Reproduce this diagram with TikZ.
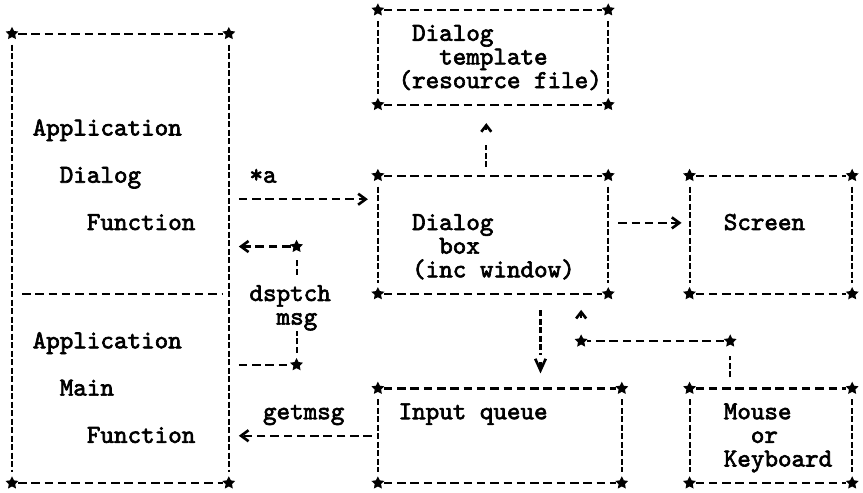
\documentclass[tikz,border=0pt]{standalone}
\usepackage{fontspec}
\newfontfamily\asciifont{lmmono10-regular.otf}[FakeBold=2.5]
\usetikzlibrary{arrows.meta, shapes.geometric, fit}
\lineskiplimit=-20pt

\begin{document}
\begin{tikzpicture}[
  x=0.271cm, y=-0.473cm,
  font=\asciifont\fontsize{14.69pt}{13.45pt}\selectfont,
  hline/.style={draw, line width=1.2pt, dash pattern=on 0.17cm off 0.096cm},
  vline/.style={draw, line width=1.2pt, dash pattern=on 0.12cm off 0.05cm},
  corner/.style={star, star points=5, star point ratio=2, fill, inner sep=0pt, minimum size=0.27cm},
  box/.style={inner sep=0pt, outer sep=0pt, append after command={
    \pgfextra{\xdef\boxname{\tikzlastnode}}
    (\boxname.north west) edge[hline, shorten <=0.12cm, shorten >=0.12cm] (\boxname.north east)
    (\boxname.south west) edge[hline, shorten <=0.12cm, shorten >=0.12cm] (\boxname.south east)
    (\boxname.north west) edge[vline, shorten <=0.22cm, shorten >=0.22cm] (\boxname.south west)
    (\boxname.north east) edge[vline, shorten <=0.22cm, shorten >=0.22cm] (\boxname.south east)
    (\boxname.north west) node[corner] {}
    (\boxname.north east) node[corner] {}
    (\boxname.south west) node[corner] {}
    (\boxname.south east) node[corner] {}}},
  txt/.style={anchor=base west, inner sep=0pt, align=left},
  tiph/.style={-{Straight Barb[length=0.15cm, width=0.22cm, line width=1.5pt]}},
  caret/.style={draw, line width=1.2pt, -{Straight Barb[length=0.13cm, width=0.2cm, line width=1.5pt]}},
  vee/.style={draw, line width=1.2pt, -{Straight Barb[length=0.23cm, width=0.21cm, line width=1.5pt]}}
]
  \useasboundingbox[fill=white] (-0.886,-0.423) rectangle (62.8,20.38);

  % boxes, on a grid of one character by one line
  \node[box, fit={(0,1) (16,20)}] (appfn) {};
  \node[box, fit={(27,0) (44,4)}] (tmpl) {};
  \node[box, fit={(27,7) (44,12)}] (dlgbox) {};
  \node[box, fit={(50,7) (62,12)}] (screen) {};
  \node[box, fit={(27,16) (45,20)}] (inq) {};
  \node[box, fit={(50,16) (62,20)}] (mouse) {};
  \draw[hline, shorten <=0.2cm, shorten >=0.14cm] (appfn.west |- 0,12) -- (appfn.east |- 0,12);

  % texts (placed at the baseline of their last line)
  \node[txt] (dlgfn) at (1.5,9.3) {Application\\[13.45pt]\phantom{xx}Dialog\\[13.45pt]\phantom{xxxx}Function};
  \node[txt] (mainfn) at (1.5,18.3) {Application\\[13.45pt]\phantom{xx}Main\\[13.45pt]\phantom{xxxx}Function};
  \node[txt] (tmpltext) at (28.5,3.3) {\phantom{x}Dialog\\\phantom{xxx}template\\(resource file)};
  \node[txt] (dlgtext) at (29.5,11.3) {Dialog\\\phantom{xx}box\\(inc window)};
  \node[txt] (scrtext) at (52.5,9.3) {Screen};
  \node[txt] (inqtext) at (28.5,17.3) {Input queue};
  \node[txt] (mousetext) at (52.5,19.3) {Mouse\\\phantom{xx}or\\Keyboard};

  % labels and bends
  \node[txt] (alabel) at (17.5,7.3) {*a};
  \node[txt] (dsplabel) at (17.5,13.3) {dsptch\\\phantom{xx}msg};
  \node[txt] (getlabel) at (18.5,17.3) {getmsg};
  \node[corner] (dspup) at (21,10) {};
  \node[corner] (dspdown) at (21,15) {};
  \node[corner] (mouseup) at (53,14) {};
  \node[corner] (mousebend) at (42,14) {};

  % connectors
  \draw[hline, tiph, shorten <=0.2cm, shorten >=0.2cm] (appfn.east |- 0,8) -- (dlgbox.west |- 0,8);
  \draw[hline, tiph, shorten <=0.2cm, shorten >=0.16cm] (dlgbox.east |- 0,9) -- (screen.west |- 0,9);
  \draw[vline, shorten <=0.17cm, shorten >=0.8cm] (dlgbox.north -| 35,0) -- (tmpl.south -| 35,0);
  \draw[caret, shorten <=0.92cm, shorten >=0.37cm] (dlgbox.north -| 35,0) -- (tmpl.south -| 35,0);
  \draw[vline, shorten <=0.33cm, shorten >=0.67cm] (dlgbox.south -| 39,0) -- (inq.north -| 39,0);
  \draw[vee, shorten <=1.36cm, shorten >=0.3cm] (dlgbox.south -| 39,0) -- (inq.north -| 39,0);
  \draw[vline, shorten <=0.22cm, shorten >=0.3cm] (mouse.north -| mouseup) -- (mouseup.center);
  \draw[hline, shorten <=0.12cm, shorten >=0.12cm] (mouseup.center) -- (mousebend.center);
  \draw[caret, shorten <=0.47cm, shorten >=0.32cm] (mousebend.center) -- (dlgbox.south -| mousebend);
  \draw[hline, shorten <=0.2cm, shorten >=0.12cm] (appfn.east |- dspdown) -- (dspdown.center);
  \draw[vline, shorten <=0.24cm] (dspdown.center) -- (dsplabel.south -| dspdown);
  \draw[vline, shorten <=0.2cm, shorten >=0.23cm] (dsplabel.north -| dspup) -- (dspup.center);
  \draw[hline, tiph, shorten <=0.12cm, shorten >=0.2cm] (dspup.center) -- (appfn.east |- dspup);
  \draw[hline, tiph, shorten <=0.12cm, shorten >=0.2cm] (inq.west) -- (appfn.east |- inq.west);
\end{tikzpicture}
\end{document}
